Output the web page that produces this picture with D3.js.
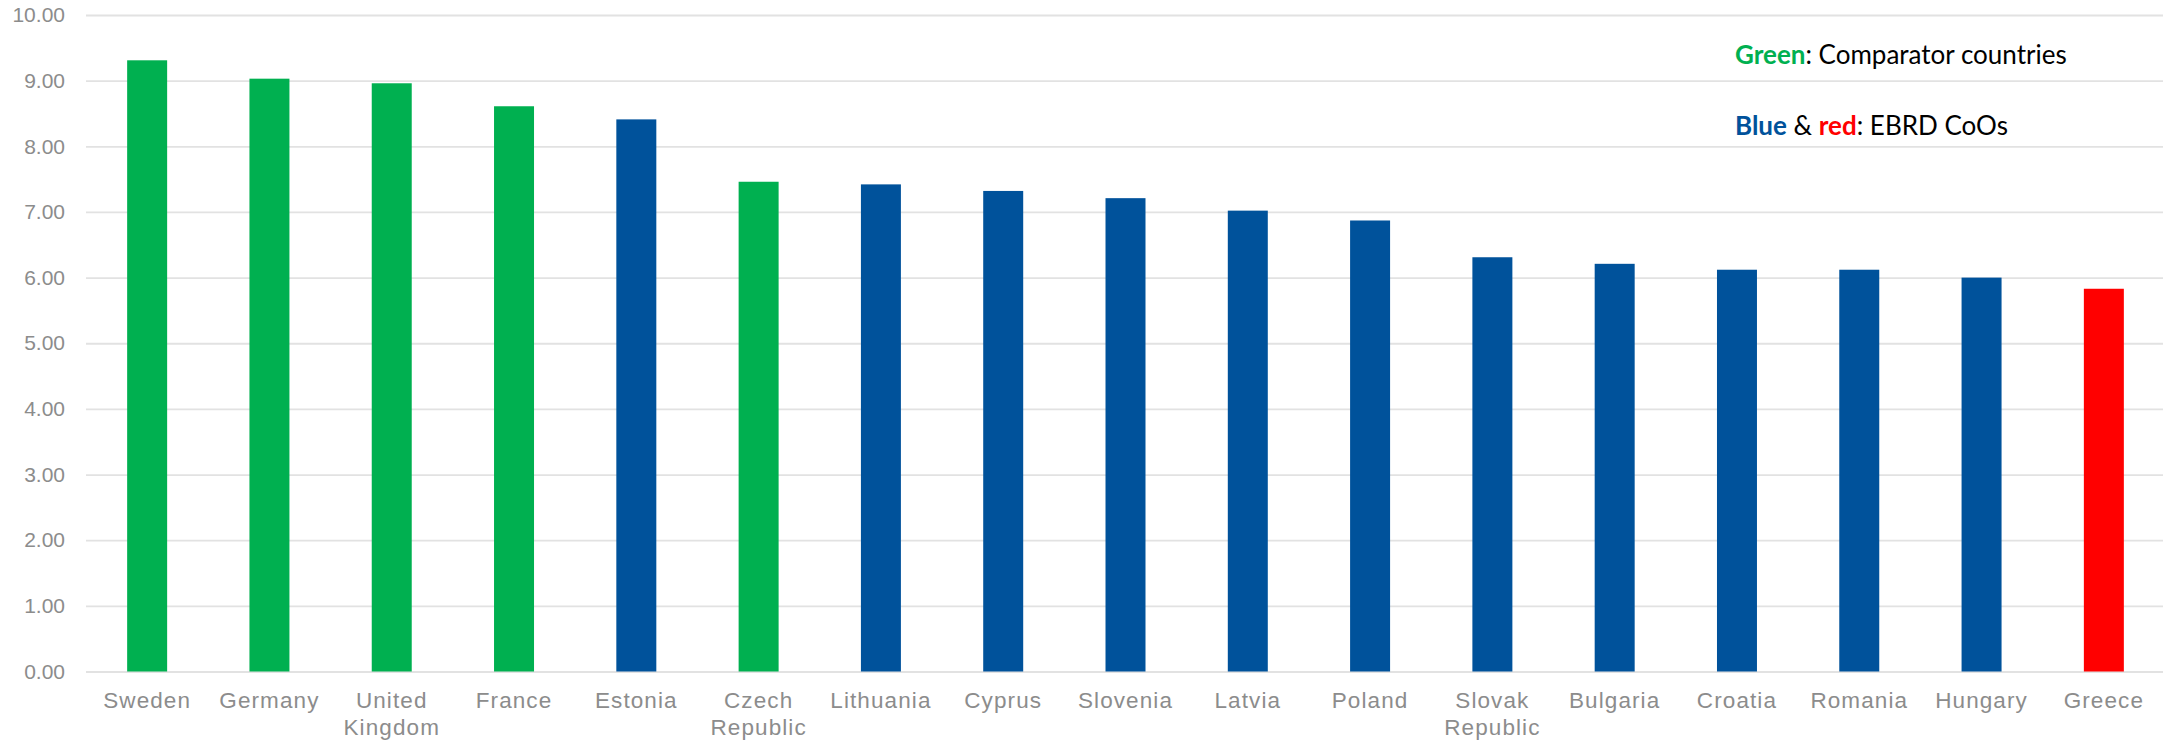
<!DOCTYPE html>
<html>
<head>
<meta charset="utf-8">
<script src="https://cdn.jsdelivr.net/npm/d3@7"></script>
<style>
  body { margin: 0; background: #fff; }
  svg { display: block; }
</style>
</head>
<body>
<div id="chart"></div>
<script>
// data ////////////////////////////////////////
var countries = ["Sweden", "Germany", "United Kingdom", "France", "Estonia", "Czech Republic",
  "Lithuania", "Cyprus", "Slovenia", "Latvia", "Poland", "Slovak Republic",
  "Bulgaria", "Croatia", "Romania", "Hungary", "Greece"];
var tickLabels = ["Sweden", "Germany", "United\nKingdom", "France", "Estonia", "Czech\nRepublic",
  "Lithuania", "Cyprus", "Slovenia", "Latvia", "Poland", "Slovak\nRepublic",
  "Bulgaria", "Croatia", "Romania", "Hungary", "Greece"];
var scores = [9.31, 9.03, 8.96, 8.61, 8.41, 7.46, 7.42, 7.32, 7.21, 7.02, 6.87, 6.31,
  6.21, 6.12, 6.12, 6.00, 5.83];
var groups = ["comp", "comp", "comp", "comp", "ebrd", "comp", "ebrd", "ebrd", "ebrd", "ebrd",
  "ebrd", "ebrd", "ebrd", "ebrd", "ebrd", "ebrd", "greece"];
var yTicks = [0, 1, 2, 3, 4, 5, 6, 7, 8, 9, 10];

var colors = { comp: "#00b050", ebrd: "#00529b", greece: "#ff0000" };

// setup ///////////////////////////////////////
var W = 2163, H = 740;
var mLeft = 86, mRight = 2165, mTop = 15, mBottom = 671.5;

var svg = d3.select("#chart").append("svg")
  .attr("width", W).attr("height", H);

var x = d3.scaleBand()
  .domain(countries)
  .range([mLeft, mRight])
  .paddingInner(0.673)
  .paddingOuter(0.3365);

var y = d3.scaleLinear().domain([0, 10]).range([mBottom, mTop]);

// gridlines + y labels
var yAxis = svg.append("g")
  .attr("transform", "translate(" + mLeft + ",0)")
  .call(d3.axisLeft(y).tickValues(yTicks).tickFormat(d3.format(".2f"))
    .tickSize(-(W - mLeft)).tickPadding(21));
yAxis.select(".domain").remove();
yAxis.selectAll(".tick line").attr("stroke", "#e2e2e2").attr("stroke-width", 1.8);
yAxis.selectAll(".tick text")
  .attr("fill", "#8c8c8c")
  .style("font-family", "Liberation Sans, Arial, sans-serif")
  .style("font-size", "21px");

// bars
svg.selectAll("rect.bar")
  .data(countries)
  .enter().append("rect")
  .attr("class", "bar")
  .attr("x", function(d) { return x(d); })
  .attr("width", x.bandwidth())
  .attr("y", function(d, i) { return y(scores[i]); })
  .attr("height", function(d, i) { return y(0) - y(scores[i]); })
  .attr("fill", function(d, i) { return colors[groups[i]]; });

// x labels
var xl = svg.append("g").selectAll("text")
  .data(countries)
  .enter().append("text")
  .attr("text-anchor", "middle")
  .attr("fill", "#8c8c8c")
  .style("font-family", "Liberation Sans, Arial, sans-serif")
  .style("font-size", "22.5px")
  .style("letter-spacing", "1.1px");
xl.each(function(d, i) {
  var t = d3.select(this);
  tickLabels[i].split("\n").forEach(function(line, k) {
    t.append("tspan")
      .attr("x", x(d) + x.bandwidth() / 2)
      .attr("y", 708 + k * 27)
      .text(line);
  });
});

// legend text
var leg = svg.append("g").style("font-family", "Lato, 'Open Sans', sans-serif").style("font-size", "26px");
var l1 = leg.append("text").attr("x", 1735).attr("y", 64);
l1.append("tspan").attr("fill", colors.comp).attr("font-weight", "bold").text("Green");
l1.append("tspan").attr("fill", "#000").text(": Comparator countries");
var l2 = leg.append("text").attr("x", 1735).attr("y", 135);
l2.append("tspan").attr("fill", colors.ebrd).attr("font-weight", "bold").text("Blue");
l2.append("tspan").attr("fill", "#000").text(" & ");
l2.append("tspan").attr("fill", colors.greece).attr("font-weight", "bold").text("red");
l2.append("tspan").attr("fill", "#000").text(": EBRD CoOs");
</script>
</body>
</html>
